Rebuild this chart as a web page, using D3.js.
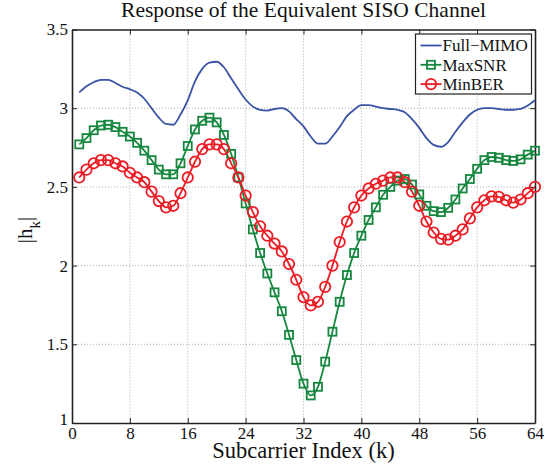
<!DOCTYPE html>
<html>
<head>
<meta charset="utf-8">
<script src="https://cdn.jsdelivr.net/npm/d3@7"></script>
<style>
  body { margin: 0; background: #fff; }
  svg text { font-family: "Liberation Serif", "Times New Roman", serif; fill: #111; }
  .grid line { stroke: #b0b0b0; stroke-dasharray: 1,2; stroke-width: 1; }
  .axis path, .axis line { stroke: #222; }
</style>
</head>
<body>
<div id="chart"></div>
<script>
const width = 552;
const height = 465;
const margin = { top: 29.5, right: 17, bottom: 42, left: 72 };
const innerWidth = width - margin.left - margin.right;
const innerHeight = height - margin.top - margin.bottom;

// Data, subcarriers 1..64
const subcarriers = d3.range(1, 65);
const fullMimo = [
  3.10, 3.14, 3.165, 3.18, 3.18, 3.16, 3.136, 3.12, 3.10, 3.06,
  3.00, 2.94, 2.90, 2.895, 2.96, 3.05, 3.17, 3.25, 3.29, 3.295,
  3.26, 3.19, 3.12, 3.055, 3.01, 2.99, 2.985, 2.995, 3.00, 2.98,
  2.93, 2.885, 2.82, 2.775, 2.775, 2.82, 2.88, 2.95, 2.99, 3.02,
  3.02, 3.01, 3.00, 2.995, 2.99, 2.975, 2.93, 2.875, 2.81, 2.767,
  2.755, 2.785, 2.85, 2.91, 2.96, 2.99, 3.00, 3.00, 2.995, 2.99,
  2.99, 2.995, 3.017, 3.05
];
const maxSnr = [
  2.77, 2.81, 2.86, 2.89, 2.895, 2.88, 2.85, 2.82, 2.78, 2.73,
  2.67, 2.61, 2.58, 2.58, 2.65, 2.76, 2.865, 2.92, 2.94, 2.91,
  2.83, 2.71, 2.56, 2.395, 2.23, 2.08, 1.95, 1.83, 1.71, 1.56,
  1.40, 1.25, 1.175, 1.23, 1.39, 1.58, 1.77, 1.94, 2.08, 2.19,
  2.29, 2.37, 2.45, 2.50, 2.54, 2.55, 2.515, 2.452, 2.38, 2.346,
  2.34, 2.367, 2.42, 2.49, 2.55, 2.615, 2.67, 2.69, 2.685, 2.67,
  2.665, 2.675, 2.705, 2.73
];
const minBer = [
  2.56, 2.61, 2.65, 2.67, 2.67, 2.65, 2.63, 2.59, 2.56, 2.53,
  2.47, 2.41, 2.37, 2.38, 2.46, 2.56, 2.66, 2.74, 2.77, 2.77,
  2.74, 2.65, 2.56, 2.445, 2.34, 2.25, 2.19, 2.14, 2.09, 2.01,
  1.91, 1.80, 1.747, 1.77, 1.865, 2.00, 2.15, 2.28, 2.37, 2.445,
  2.49, 2.52, 2.54, 2.56, 2.56, 2.53, 2.47, 2.38, 2.28, 2.21,
  2.17, 2.165, 2.19, 2.23, 2.30, 2.37, 2.415, 2.44, 2.437, 2.415,
  2.40, 2.42, 2.46, 2.50
];
const xTicks = [0, 8, 16, 24, 32, 40, 48, 56, 64];
const yTicks = [1, 1.5, 2, 2.5, 3, 3.5];
const seriesNames = ["Full\u2212MIMO", "MaxSNR", "MinBER"];

const colors = { blue: "#3953a4", green: "#16873f", red: "#ec1c24" };
const serif = "'Liberation Serif', 'Times New Roman', serif";

const svg = d3.select("#chart")
  .append("svg")
  .attr("width", width)
  .attr("height", height);

const g = svg.append("g")
  .attr("transform", `translate(${margin.left},${margin.top})`);

const xScale = d3.scaleLinear().domain([0, 64]).range([0, innerWidth]);
const yScale = d3.scaleLinear().domain([1, 3.5]).range([innerHeight, 0]);

// Dotted grid
g.append("g").attr("class", "grid")
  .selectAll("line").data(xTicks.slice(1, -1)).enter().append("line")
  .attr("x1", d => xScale(d)).attr("x2", d => xScale(d))
  .attr("y1", 0).attr("y2", innerHeight);
g.append("g").attr("class", "grid")
  .selectAll("line").data(yTicks.slice(1, -1)).enter().append("line")
  .attr("y1", d => yScale(d)).attr("y2", d => yScale(d))
  .attr("x1", 0).attr("x2", innerWidth);

// Axes with inward ticks, box all round
const xAxis = g.append("g").attr("class", "axis")
  .attr("transform", `translate(0,${innerHeight})`)
  .call(d3.axisBottom(xScale).tickValues(xTicks).tickSizeInner(-5).tickSizeOuter(0).tickPadding(4));
xAxis.selectAll("text")
  .attr("dy", "0.72em")
  .style("font-family", serif)
  .style("font-size", "17px");

const yAxis = g.append("g").attr("class", "axis")
  .call(d3.axisLeft(yScale).tickValues(yTicks).tickSizeInner(-5).tickSizeOuter(0).tickPadding(4)
    .tickFormat(d3.format("")));
yAxis.selectAll("text")
  .style("font-family", serif)
  .style("font-size", "17px");
yAxis.selectAll(".tick").filter(d => d === 1).select("text").attr("dy", "0.1em");

const topAxis = g.append("g").attr("class", "axis")
  .call(d3.axisTop(xScale).tickValues(xTicks).tickSizeInner(-5).tickSizeOuter(0));
topAxis.selectAll("text").remove();
const rightAxis = g.append("g").attr("class", "axis")
  .attr("transform", `translate(${innerWidth},0)`)
  .call(d3.axisRight(yScale).tickValues(yTicks).tickSizeInner(-5).tickSizeOuter(0));
rightAxis.selectAll("text").remove();

g.selectAll(".axis path").attr("stroke-width", 1.6);

// Lines
const line = d3.line()
  .x((d, i) => xScale(subcarriers[i]))
  .y(d => yScale(d))
  .curve(d3.curveMonotoneX);

g.append("path").datum(fullMimo)
  .attr("fill", "none").attr("stroke", colors.blue).attr("stroke-width", 1.8)
  .attr("d", line);

g.append("path").datum(maxSnr)
  .attr("fill", "none").attr("stroke", colors.green).attr("stroke-width", 1.8)
  .attr("d", line);

g.append("path").datum(minBer)
  .attr("fill", "none").attr("stroke", colors.red).attr("stroke-width", 1.8)
  .attr("d", line);

// Markers
g.append("g").selectAll("rect")
  .data(maxSnr).enter().append("rect")
  .attr("x", (d, i) => xScale(subcarriers[i]) - 4)
  .attr("y", d => yScale(d) - 4)
  .attr("width", 8).attr("height", 8)
  .attr("fill", "none").attr("stroke", colors.green).attr("stroke-width", 1.8);

g.append("g").selectAll("circle")
  .data(minBer).enter().append("circle")
  .attr("cx", (d, i) => xScale(subcarriers[i]))
  .attr("cy", d => yScale(d))
  .attr("r", 5.2)
  .attr("fill", "none").attr("stroke", colors.red).attr("stroke-width", 1.8);

// Legend
const legend = svg.append("g").attr("transform", "translate(415.5,34)");
legend.append("rect")
  .attr("width", 116).attr("height", 60)
  .attr("fill", "#fff").attr("stroke", "#222").attr("stroke-width", 1.2);

const legendColors = [colors.blue, colors.green, colors.red];
seriesNames.forEach((name, i) => {
  const y = 11.5 + i * 19.3;
  legend.append("line")
    .attr("x1", 5).attr("x2", 26).attr("y1", y).attr("y2", y)
    .attr("stroke", legendColors[i]).attr("stroke-width", 1.8);
  if (i === 1) {
    legend.append("rect").attr("x", 11.5).attr("y", y - 4).attr("width", 8).attr("height", 8)
      .attr("fill", "none").attr("stroke", colors.green).attr("stroke-width", 1.8);
  }
  if (i === 2) {
    legend.append("circle").attr("cx", 15.5).attr("cy", y).attr("r", 5.2)
      .attr("fill", "none").attr("stroke", colors.red).attr("stroke-width", 1.8);
  }
  legend.append("text")
    .attr("x", 27).attr("y", y).attr("dy", "0.35em")
    .style("font-family", serif)
    .style("font-size", "17px")
    .text(name);
});

// Title and axis labels
svg.append("text")
  .attr("x", margin.left + innerWidth / 2)
  .attr("y", 17)
  .attr("text-anchor", "middle")
  .style("font-family", serif)
  .style("font-size", "21.5px")
  .text("Response of the Equivalent SISO Channel");

svg.append("text")
  .attr("x", margin.left + innerWidth / 2)
  .attr("y", 458)
  .attr("text-anchor", "middle")
  .style("font-family", serif)
  .style("font-size", "22.5px")
  .text("Subcarrier Index (k)");

const yLabel = svg.append("text")
  .attr("transform", "translate(32,230) rotate(-90)")
  .attr("text-anchor", "middle")
  .style("font-family", serif)
  .style("font-size", "21px");
yLabel.append("tspan").text("|h");
yLabel.append("tspan").attr("baseline-shift", "sub").style("font-size", "15px").text("k");
yLabel.append("tspan").text("|");
</script>
</body>
</html>
